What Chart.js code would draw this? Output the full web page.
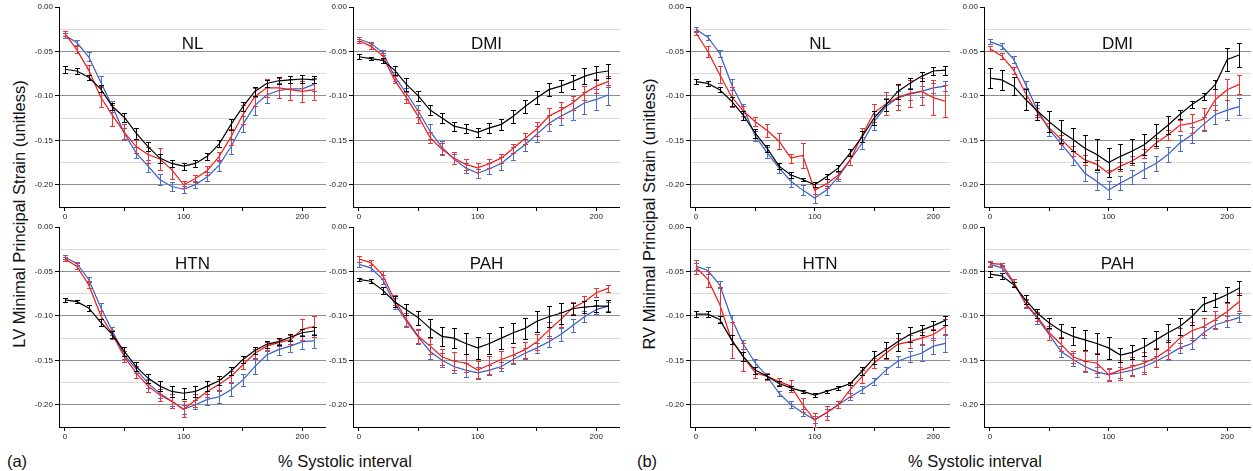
<!DOCTYPE html>
<html>
<head>
<meta charset="utf-8">
<script src="https://cdn.jsdelivr.net/npm/chart.js@4.4.1/dist/chart.umd.min.js"></script>
<style>
  body { margin: 0; width: 1253px; height: 471px; background: #fff; position: relative; overflow: hidden;
         font-family: Arial, "Liberation Sans", sans-serif; }
  canvas { position: absolute; }
  .lbl { position: absolute; font-size: 16.5px; color: #111; white-space: nowrap; transform: translate(-50%, -50%); }
  .ylab { transform: translate(-50%, -50%) rotate(-90deg); }
</style>
</head>
<body>
<div class="lbl ylab" style="left:19px;top:214px">LV Minimal Principal Strain (unitless)</div>
<div class="lbl ylab" style="left:649px;top:214px">RV Minimal Principal Strain (unitless)</div>
<div class="lbl" style="left:17px;top:461px">(a)</div>
<div class="lbl" style="left:345px;top:461px">% Systolic interval</div>
<div class="lbl" style="left:647px;top:461px">(b)</div>
<div class="lbl" style="left:975px;top:461px">% Systolic interval</div>

<script>
const xValues = [0,10,20,30,40,50,60,70,80,90,100,110,120,130,140,150,160,170,180,190,200,210];
const xTicks = [0, 50, 100, 150, 200];
const yTicks = [0, -0.025, -0.05, -0.075, -0.1, -0.125, -0.15, -0.175, -0.2];

// LV - NL
const lvNlBlack    = [-0.070,-0.072,-0.079,-0.092,-0.112,-0.124,-0.142,-0.157,-0.170,-0.176,-0.179,-0.176,-0.168,-0.154,-0.132,-0.112,-0.095,-0.086,-0.083,-0.082,-0.081,-0.082];
const lvNlBlackErr = [0.004,0.003,0.003,0.004,0.004,0.005,0.006,0.005,0.005,0.004,0.004,0.004,0.004,0.004,0.006,0.005,0.005,0.004,0.004,0.004,0.004,0.004];
const lvNlRed      = [-0.030,-0.048,-0.071,-0.101,-0.122,-0.141,-0.157,-0.166,-0.171,-0.183,-0.200,-0.193,-0.184,-0.168,-0.146,-0.121,-0.101,-0.091,-0.091,-0.093,-0.095,-0.093];
const lvNlRedErr   = [0.003,0.004,0.006,0.012,0.012,0.009,0.007,0.009,0.012,0.011,0.004,0.004,0.005,0.005,0.009,0.011,0.010,0.010,0.011,0.012,0.012,0.012];
const lvNlBlue     = [-0.032,-0.040,-0.056,-0.084,-0.112,-0.142,-0.164,-0.179,-0.194,-0.202,-0.205,-0.200,-0.191,-0.178,-0.157,-0.132,-0.111,-0.099,-0.094,-0.092,-0.092,-0.087];
const lvNlBlueErr  = [0.003,0.003,0.005,0.006,0.006,0.006,0.006,0.007,0.006,0.005,0.004,0.004,0.005,0.006,0.008,0.009,0.010,0.009,0.008,0.007,0.007,0.007];

// LV - DMI
const lvDmiBlack    = [-0.056,-0.058,-0.060,-0.071,-0.087,-0.100,-0.116,-0.125,-0.134,-0.137,-0.141,-0.136,-0.132,-0.123,-0.112,-0.102,-0.093,-0.089,-0.084,-0.078,-0.074,-0.072];
const lvDmiBlackErr = [0.003,0.002,0.003,0.005,0.007,0.006,0.006,0.006,0.005,0.005,0.005,0.006,0.006,0.007,0.007,0.007,0.007,0.007,0.008,0.009,0.008,0.008];
const lvDmiRed      = [-0.038,-0.044,-0.055,-0.082,-0.102,-0.123,-0.147,-0.160,-0.170,-0.177,-0.181,-0.176,-0.170,-0.159,-0.148,-0.137,-0.123,-0.116,-0.108,-0.097,-0.089,-0.084];
const lvDmiRedErr   = [0.002,0.003,0.003,0.004,0.006,0.007,0.006,0.007,0.007,0.006,0.005,0.005,0.005,0.005,0.006,0.008,0.009,0.009,0.008,0.008,0.008,0.006];
const lvDmiBlue     = [-0.036,-0.041,-0.051,-0.078,-0.097,-0.117,-0.140,-0.158,-0.171,-0.181,-0.187,-0.182,-0.176,-0.165,-0.155,-0.143,-0.131,-0.123,-0.116,-0.108,-0.104,-0.099];
const lvDmiBlueErr  = [0.002,0.002,0.003,0.005,0.006,0.007,0.008,0.007,0.006,0.006,0.005,0.006,0.007,0.007,0.007,0.009,0.009,0.010,0.011,0.012,0.012,0.011];

// LV - HTN
const lvHtnBlack    = [-0.082,-0.084,-0.091,-0.107,-0.121,-0.140,-0.157,-0.170,-0.179,-0.185,-0.187,-0.185,-0.179,-0.173,-0.162,-0.149,-0.139,-0.132,-0.129,-0.124,-0.119,-0.117];
const lvHtnBlackErr = [0.002,0.002,0.003,0.004,0.004,0.005,0.005,0.005,0.006,0.006,0.006,0.006,0.006,0.005,0.004,0.004,0.004,0.004,0.004,0.004,0.004,0.004];
const lvHtnRed      = [-0.036,-0.044,-0.065,-0.099,-0.121,-0.146,-0.164,-0.179,-0.189,-0.196,-0.205,-0.195,-0.185,-0.177,-0.168,-0.155,-0.142,-0.134,-0.130,-0.127,-0.115,-0.112];
const lvHtnRedErr   = [0.002,0.003,0.004,0.005,0.005,0.006,0.006,0.007,0.007,0.008,0.009,0.007,0.006,0.006,0.006,0.005,0.005,0.005,0.004,0.005,0.012,0.012];
const lvHtnBlue     = [-0.034,-0.041,-0.059,-0.090,-0.117,-0.144,-0.160,-0.176,-0.187,-0.196,-0.205,-0.200,-0.194,-0.191,-0.183,-0.172,-0.157,-0.144,-0.138,-0.134,-0.129,-0.128];
const lvHtnBlueErr  = [0.002,0.002,0.003,0.004,0.005,0.004,0.004,0.005,0.005,0.005,0.005,0.005,0.006,0.007,0.007,0.007,0.008,0.006,0.006,0.007,0.008,0.008];

// LV - PAH
const lvPahBlack    = [-0.059,-0.061,-0.071,-0.084,-0.093,-0.102,-0.114,-0.123,-0.125,-0.131,-0.136,-0.131,-0.125,-0.119,-0.114,-0.106,-0.101,-0.097,-0.092,-0.090,-0.089,-0.089];
const lvPahBlackErr = [0.002,0.002,0.004,0.006,0.006,0.008,0.010,0.011,0.011,0.012,0.012,0.012,0.012,0.011,0.012,0.012,0.012,0.012,0.007,0.007,0.007,0.007];
const lvPahRed      = [-0.036,-0.040,-0.054,-0.082,-0.104,-0.123,-0.134,-0.146,-0.151,-0.153,-0.161,-0.155,-0.149,-0.144,-0.138,-0.129,-0.116,-0.104,-0.091,-0.084,-0.074,-0.069];
const lvPahRedErr   = [0.003,0.003,0.004,0.006,0.007,0.008,0.009,0.009,0.010,0.010,0.010,0.010,0.010,0.009,0.009,0.009,0.009,0.008,0.007,0.006,0.005,0.004];
const lvPahBlue     = [-0.042,-0.046,-0.059,-0.086,-0.106,-0.124,-0.140,-0.150,-0.157,-0.161,-0.164,-0.161,-0.157,-0.149,-0.142,-0.136,-0.129,-0.121,-0.111,-0.101,-0.093,-0.089];
const lvPahBlueErr  = [0.003,0.003,0.005,0.006,0.007,0.008,0.008,0.008,0.007,0.008,0.006,0.006,0.005,0.005,0.006,0.006,0.006,0.007,0.007,0.006,0.005,0.005];

// RV - NL
const rvNlBlack    = [-0.084,-0.086,-0.093,-0.106,-0.122,-0.142,-0.159,-0.179,-0.189,-0.194,-0.200,-0.191,-0.181,-0.164,-0.146,-0.125,-0.110,-0.095,-0.086,-0.078,-0.072,-0.071];
const rvNlBlackErr = [0.003,0.003,0.003,0.005,0.005,0.005,0.004,0.003,0.003,0.002,0.003,0.003,0.003,0.004,0.006,0.008,0.007,0.008,0.006,0.005,0.005,0.005];
const rvNlRed      = [-0.029,-0.050,-0.076,-0.101,-0.117,-0.129,-0.139,-0.151,-0.170,-0.167,-0.206,-0.199,-0.189,-0.172,-0.144,-0.119,-0.109,-0.102,-0.097,-0.095,-0.102,-0.106];
const rvNlRedErr   = [0.002,0.006,0.010,0.011,0.006,0.005,0.007,0.009,0.005,0.014,0.004,0.005,0.004,0.006,0.008,0.010,0.013,0.014,0.015,0.015,0.020,0.018];
const rvNlBlue     = [-0.025,-0.034,-0.052,-0.087,-0.114,-0.145,-0.164,-0.181,-0.196,-0.206,-0.215,-0.206,-0.191,-0.172,-0.153,-0.129,-0.112,-0.102,-0.098,-0.095,-0.091,-0.089];
const rvNlBlueErr  = [0.003,0.003,0.004,0.006,0.005,0.006,0.006,0.006,0.007,0.006,0.005,0.005,0.005,0.006,0.007,0.009,0.010,0.008,0.007,0.006,0.006,0.006];

// RV - DMI
const rvDmiBlack    = [-0.080,-0.082,-0.089,-0.104,-0.117,-0.129,-0.140,-0.149,-0.159,-0.166,-0.175,-0.168,-0.162,-0.155,-0.144,-0.133,-0.121,-0.110,-0.101,-0.087,-0.059,-0.054];
const rvDmiBlackErr = [0.011,0.011,0.010,0.012,0.010,0.012,0.013,0.013,0.015,0.017,0.016,0.014,0.013,0.012,0.012,0.010,0.005,0.004,0.004,0.005,0.013,0.013];
const rvDmiRed      = [-0.047,-0.055,-0.071,-0.097,-0.119,-0.136,-0.149,-0.162,-0.172,-0.177,-0.187,-0.179,-0.173,-0.165,-0.153,-0.144,-0.133,-0.131,-0.126,-0.104,-0.093,-0.087];
const rvDmiRedErr   = [0.003,0.003,0.004,0.005,0.005,0.005,0.005,0.006,0.006,0.005,0.004,0.005,0.005,0.005,0.006,0.006,0.006,0.011,0.012,0.012,0.012,0.011];
const rvDmiBlue     = [-0.039,-0.044,-0.059,-0.087,-0.116,-0.138,-0.154,-0.170,-0.187,-0.196,-0.206,-0.198,-0.191,-0.183,-0.176,-0.166,-0.153,-0.144,-0.132,-0.121,-0.116,-0.112];
const rvDmiBlueErr  = [0.003,0.003,0.004,0.004,0.006,0.007,0.006,0.008,0.009,0.010,0.010,0.008,0.008,0.009,0.008,0.008,0.009,0.009,0.008,0.011,0.011,0.010];

// RV - HTN
const rvHtnBlack    = [-0.098,-0.098,-0.104,-0.127,-0.146,-0.161,-0.168,-0.176,-0.181,-0.185,-0.189,-0.185,-0.181,-0.176,-0.162,-0.147,-0.138,-0.129,-0.121,-0.116,-0.111,-0.105];
const rvHtnBlackErr = [0.003,0.003,0.004,0.005,0.005,0.004,0.003,0.003,0.002,0.002,0.002,0.002,0.002,0.002,0.004,0.007,0.009,0.010,0.008,0.006,0.005,0.005];
const rvHtnRed      = [-0.045,-0.059,-0.087,-0.127,-0.146,-0.164,-0.168,-0.174,-0.179,-0.200,-0.217,-0.209,-0.200,-0.183,-0.168,-0.153,-0.142,-0.132,-0.129,-0.125,-0.121,-0.112];
const rvHtnRedErr   = [0.008,0.009,0.020,0.020,0.016,0.006,0.004,0.004,0.007,0.008,0.008,0.008,0.004,0.008,0.007,0.006,0.006,0.007,0.007,0.007,0.006,0.008];
const rvHtnBlue     = [-0.044,-0.049,-0.065,-0.103,-0.132,-0.153,-0.168,-0.187,-0.200,-0.209,-0.217,-0.209,-0.200,-0.191,-0.183,-0.174,-0.161,-0.151,-0.146,-0.142,-0.134,-0.131];
const rvHtnBlueErr  = [0.004,0.004,0.004,0.004,0.005,0.005,0.003,0.003,0.004,0.004,0.004,0.004,0.004,0.004,0.004,0.004,0.004,0.006,0.006,0.009,0.009,0.010];

// RV - PAH
const rvPahBlack    = [-0.053,-0.055,-0.065,-0.082,-0.097,-0.108,-0.117,-0.123,-0.127,-0.131,-0.136,-0.144,-0.141,-0.135,-0.127,-0.119,-0.112,-0.101,-0.087,-0.082,-0.076,-0.069];
const rvPahBlackErr = [0.003,0.003,0.003,0.005,0.005,0.006,0.008,0.010,0.011,0.012,0.012,0.008,0.008,0.010,0.010,0.010,0.010,0.009,0.008,0.008,0.008,0.008];
const rvPahRed      = [-0.041,-0.042,-0.062,-0.086,-0.101,-0.119,-0.132,-0.146,-0.151,-0.153,-0.166,-0.161,-0.157,-0.153,-0.147,-0.138,-0.125,-0.117,-0.112,-0.104,-0.095,-0.084];
const rvPahRedErr   = [0.003,0.002,0.004,0.004,0.005,0.008,0.008,0.007,0.011,0.011,0.007,0.011,0.011,0.012,0.011,0.011,0.011,0.010,0.010,0.010,0.010,0.010];
const rvPahBlue     = [-0.042,-0.046,-0.063,-0.086,-0.103,-0.121,-0.140,-0.149,-0.157,-0.163,-0.166,-0.164,-0.161,-0.157,-0.151,-0.144,-0.136,-0.131,-0.119,-0.110,-0.106,-0.102];
const rvPahBlueErr  = [0.003,0.003,0.004,0.005,0.006,0.006,0.006,0.007,0.006,0.006,0.006,0.006,0.006,0.006,0.006,0.006,0.006,0.006,0.006,0.005,0.006,0.005];

const BLACK = "#000000", RED = "#f01818", BLUE = "#3a5cc4";

const panels = [
  { title: "NL",  left: 19,  top: 0,   width: 307, xMax: 220, series: [[lvNlBlack, lvNlBlackErr], [lvNlRed, lvNlRedErr], [lvNlBlue, lvNlBlueErr]] },
  { title: "DMI", left: 313, top: 0,   width: 307, xMax: 220, series: [[lvDmiBlack, lvDmiBlackErr], [lvDmiRed, lvDmiRedErr], [lvDmiBlue, lvDmiBlueErr]] },
  { title: "HTN", left: 19,  top: 220, width: 307, xMax: 220, series: [[lvHtnBlack, lvHtnBlackErr], [lvHtnRed, lvHtnRedErr], [lvHtnBlue, lvHtnBlueErr]] },
  { title: "PAH", left: 313, top: 220, width: 307, xMax: 220, series: [[lvPahBlack, lvPahBlackErr], [lvPahRed, lvPahRedErr], [lvPahBlue, lvPahBlueErr]] },
  { title: "NL",  left: 650, top: 0,   width: 300, xMax: 214, series: [[rvNlBlack, rvNlBlackErr], [rvNlRed, rvNlRedErr], [rvNlBlue, rvNlBlueErr]] },
  { title: "DMI", left: 944, top: 0,   width: 307, xMax: 220, series: [[rvDmiBlack, rvDmiBlackErr], [rvDmiRed, rvDmiRedErr], [rvDmiBlue, rvDmiBlueErr]] },
  { title: "HTN", left: 650, top: 220, width: 300, xMax: 214, series: [[rvHtnBlack, rvHtnBlackErr], [rvHtnRed, rvHtnRedErr], [rvHtnBlue, rvHtnBlueErr]] },
  { title: "PAH", left: 944, top: 220, width: 307, xMax: 220, series: [[rvPahBlack, rvPahBlackErr], [rvPahRed, rvPahRedErr], [rvPahBlue, rvPahBlueErr]] }
];

const errorBars = {
  id: "errorBars",
  afterDatasetDraw(chart, args) {
    const ds = chart.data.datasets[args.index];
    const { ctx, scales: { x, y } } = chart;
    ctx.save();
    ctx.strokeStyle = ds.errColor;
    ctx.lineWidth = 1;
    ds.data.forEach((p, i) => {
      const e = ds.errors[i];
      const px = Math.round(x.getPixelForValue(p.x)) + 0.5;
      const y1 = Math.round(y.getPixelForValue(p.y + e)) + 0.5;
      const y2 = Math.round(y.getPixelForValue(p.y - e)) + 0.5;
      ctx.beginPath();
      ctx.moveTo(px, y1); ctx.lineTo(px, y2);
      ctx.moveTo(px - 2.5, y1); ctx.lineTo(px + 2.5, y1);
      ctx.moveTo(px - 2.5, y2); ctx.lineTo(px + 2.5, y2);
      ctx.stroke();
    });
    ctx.restore();
  }
};

const panelTitle = {
  id: "panelTitle",
  afterDraw(chart, args, opts) {
    const { ctx, chartArea } = chart;
    ctx.save();
    ctx.font = "17px Arial, 'Liberation Sans', sans-serif";
    ctx.fillStyle = "#111";
    ctx.textAlign = "center";
    ctx.textBaseline = "middle";
    ctx.fillText(opts.text, (chartArea.left + chartArea.right) / 2, chartArea.top + 37);
    ctx.restore();
  }
};

const tickFont = { family: "Arial, 'Liberation Sans', sans-serif", size: 8 };
const colors = [BLACK, RED, BLUE];
const errColors = ["#000000", "#f53030", "#4a6ccc"];

panels.forEach(p => {
  const canvas = document.createElement("canvas");
  canvas.width = p.width;
  canvas.height = 227;
  canvas.style.left = p.left + "px";
  canvas.style.top = p.top + "px";
  document.body.appendChild(canvas);

  const datasets = p.series.map((s, k) => ({
    data: s[0].map((v, i) => ({ x: xValues[i], y: v })),
    errors: s[1],
    errColor: errColors[k],
    borderColor: colors[k],
    borderWidth: 1.2,
    pointRadius: 0,
    tension: 0,
    fill: false
  }));

  new Chart(canvas, {
    type: "line",
    data: { datasets },
    options: {
      responsive: false,
      animation: false,
      layout: { padding: { top: 7, right: 0, left: 0, bottom: 0 } },
      plugins: { legend: { display: false }, tooltip: { enabled: false }, panelTitle: { text: p.title } },
      scales: {
        x: {
          type: "linear", min: -5, max: p.xMax,
          afterBuildTicks: s => { s.ticks = xTicks.map(v => ({ value: v })); },
          afterFit: s => { s.height = 20; },
          ticks: { font: tickFont, color: "#222", padding: 1, maxRotation: 0,
                   callback: v => (v % 100 === 0 ? String(v) : "") },
          grid: { drawOnChartArea: false, tickLength: 4, tickColor: "#000" },
          border: { color: "#000", width: 1 }
        },
        y: {
          min: -0.225, max: 0,
          afterBuildTicks: s => { s.ticks = yTicks.map(v => ({ value: v })); },
          afterFit: s => { s.width = 40; },
          ticks: { font: tickFont, color: "#222", padding: 2,
                   callback: v => (Math.round(v * 1000) % 50 === 0 ? v.toFixed(2) : "") },
          grid: {
            tickLength: 4,
            color: c => {
              const m = Math.round(c.tick.value * 1000);
              if (m === 0) return "rgba(0,0,0,0)";
              return m % 50 === 0 ? "#8e8e8e" : "#dadada";
            },
            tickColor: c => (Math.round(c.tick.value * 1000) % 50 === 0 ? "#000" : "rgba(0,0,0,0)")
          },
          border: { color: "#000", width: 1 }
        }
      }
    },
    plugins: [errorBars, panelTitle]
  });
});
</script>
</body>
</html>
